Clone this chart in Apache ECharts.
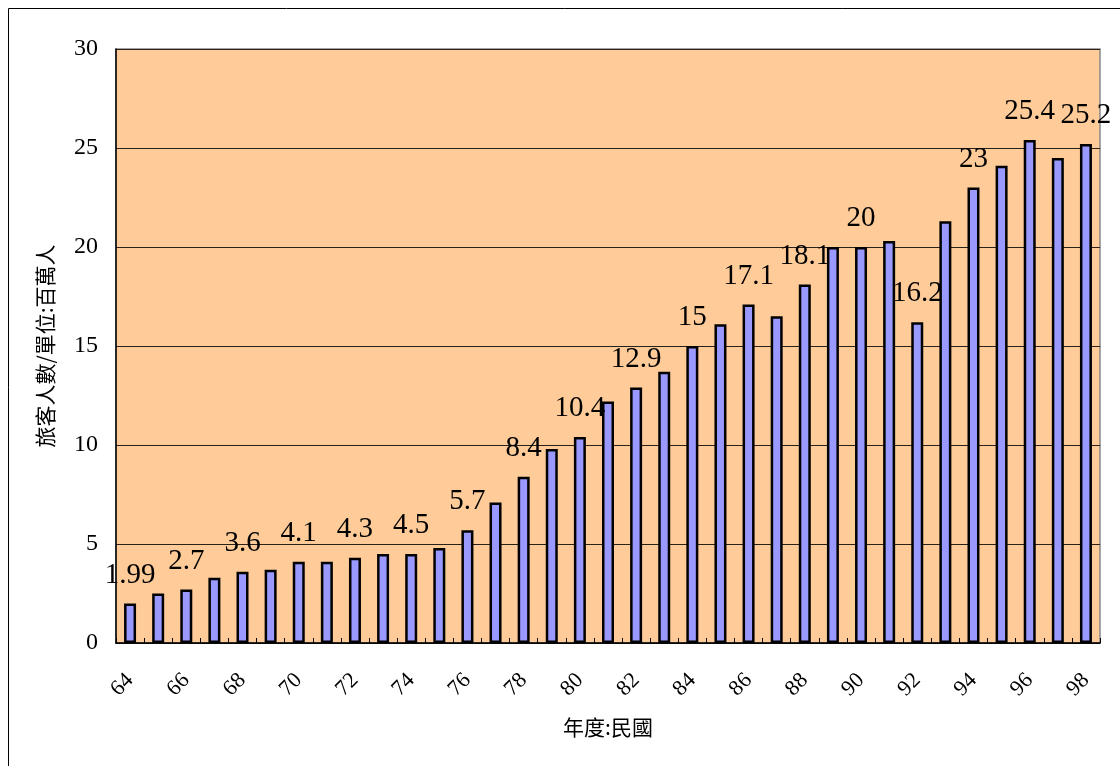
<!DOCTYPE html>
<html>
<head>
<meta charset="utf-8">
<script src="https://cdn.jsdelivr.net/npm/echarts@6/dist/echarts.min.js"></script>
<style>
  html, body { margin: 0; padding: 0; background: #fff; }
  #chart { width: 1120px; height: 766px; }
</style>
</head>
<body>
<div id="chart"></div>
<script>
// 年度 (民國) 64–98
const years = ['64','65','66','67','68','69','70','71','72','73','74','75','76','77','78','79','80',
               '81','82','83','84','85','86','87','88','89','90','91','92','93','94','95','96','97','98'];
// 旅客人數 (百萬人)
const travelers = [1.99, 2.5, 2.7, 3.3, 3.6, 3.7, 4.1, 4.1, 4.3, 4.5, 4.5, 4.8, 5.7, 7.1, 8.4, 9.8, 10.4,
                   12.2, 12.9, 13.7, 15, 16.1, 17.1, 16.5, 18.1, 20, 20, 20.3, 16.2, 21.3, 23, 24.1, 25.4, 24.5, 25.2];
// years whose value is printed above the bar
const labelledYears = ['64','66','68','70','72','74','76','78','80','82','84','86','88','90','92','94','96','98'];
const yTicks = [0, 5, 10, 15, 20, 25, 30];

const serif = '"Liberation Serif", "DejaVu Serif", serif';
const cjk = '"Noto Sans CJK TC", "Noto Sans CJK SC", sans-serif';

const chart = echarts.init(document.getElementById('chart'));

chart.setOption({
  animation: false,
  graphic: [
    {
      type: 'rect',
      shape: { x: 8.5, y: 8.5, width: 1200, height: 900 },
      style: { fill: 'none', stroke: '#000', lineWidth: 1 },
      silent: true, z: -10
    }
  ],
  grid: {
    left: 116, top: 49, width: 984, height: 594,
    show: true, backgroundColor: '#FFCC99',
    borderColor: '#888', borderWidth: 1.5
  },
  xAxis: {
    type: 'category',
    data: years,
    name: '年度:民國',
    nameLocation: 'middle',
    nameGap: 74,
    nameTextStyle: { fontFamily: cjk, fontSize: 21, color: '#000' },
    axisLine: { lineStyle: { color: '#000', width: 1.5 } },
    axisTick: { show: true, inside: true, length: 5, interval: 0, lineStyle: { color: '#000' } },
    axisLabel: {
      interval: 1, rotate: 45, margin: 34,
      fontFamily: serif, fontSize: 22, color: '#000'
    },
    splitLine: { show: false }
  },
  yAxis: {
    type: 'value',
    min: yTicks[0], max: yTicks[yTicks.length - 1], interval: 5,
    name: '旅客人數/單位:百萬人',
    nameLocation: 'middle',
    nameGap: 60,
    nameRotate: 90,
    nameTextStyle: { fontFamily: cjk, fontSize: 21, color: '#000' },
    axisLine: { show: true, lineStyle: { color: '#000', width: 1.5 } },
    axisTick: { show: false },
    axisLabel: { margin: 18, fontFamily: serif, fontSize: 24, color: '#000' },
    splitLine: { lineStyle: { color: '#2a2118', width: 1 } }
  },
  series: [{
    type: 'bar',
    data: travelers.map((v, i) => ({
      value: v,
      label: { show: labelledYears.includes(years[i]) }
    })),
    barWidth: 12,
    itemStyle: { color: '#9999FF', borderColor: '#000', borderWidth: 2.5 },
    label: {
      position: 'top', distance: 14,
      fontFamily: serif, fontSize: 29, color: '#000'
    }
  }]
});
</script>
</body>
</html>
